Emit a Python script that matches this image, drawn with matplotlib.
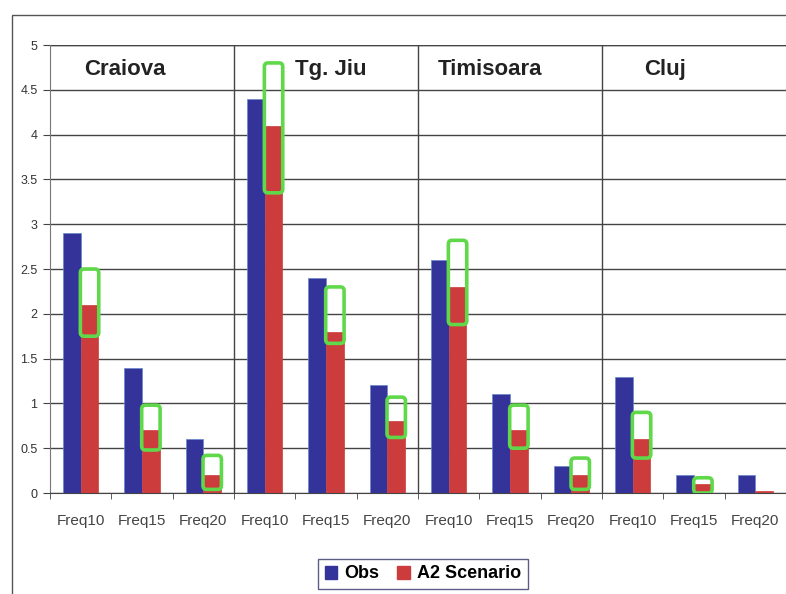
import numpy as np
import matplotlib.pyplot as plt
from matplotlib.patches import FancyBboxPatch, Rectangle

plt.rcParams['font.family'] = ['Liberation Sans', 'DejaVu Sans']

stations = ['Craiova', 'Tg. Jiu', 'Timisoara', 'Cluj']
freqs = ['Freq10', 'Freq15', 'Freq20']
obs = [2.9, 1.4, 0.6, 4.4, 2.4, 1.2, 2.6, 1.1, 0.3, 1.3, 0.2, 0.2]
a2 = [2.1, 0.7, 0.2, 4.1, 1.8, 0.8, 2.3, 0.7, 0.2, 0.6, 0.1, 0.02]
# range boxes (green) around the scenario values
box_low = [1.75, 0.48, 0.04, 3.35, 1.67, 0.62, 1.88, 0.5, 0.04, 0.39, 0.0, None]
box_high = [2.5, 0.98, 0.42, 4.8, 2.3, 1.07, 2.82, 0.98, 0.39, 0.9, 0.17, None]

fig = plt.figure(figsize=(7.86, 5.94), dpi=100)
# outer chart frame
fig.add_artist(Rectangle((12 / 786, -0.05), 1.0, 1 - 15 / 594 + 0.05, transform=fig.transFigure,
                         fill=False, edgecolor='#555555', linewidth=1))

ax = fig.add_axes([50 / 786, 101 / 594, 736 / 786, 448 / 594])
x = np.arange(len(obs))
w = 0.29
ax.bar(x - w / 2, obs, w, color='#333399', edgecolor='#6688cc', linewidth=0.5, zorder=3)
ax.bar(x + w / 2, a2, w, color='#cc3c3c', edgecolor='#cc3c3c', linewidth=0.5, zorder=3)

for i in range(len(obs)):
    if box_low[i] is None:
        continue
    ax.add_patch(FancyBboxPatch((x[i] + w / 2 - 0.15, box_low[i]), 0.30, box_high[i] - box_low[i],
                                boxstyle='round,pad=0,rounding_size=0.06', fill=False,
                                edgecolor='#5fd94a', linewidth=2.6, zorder=4,
                                mutation_aspect=0.7))

ax.set_xlim(-0.5, len(obs) - 0.5)
ax.set_ylim(0, 5)
ax.set_yticks(np.arange(0, 5.01, 0.5))
ax.set_yticklabels(['0', '0.5', '1', '1.5', '2', '2.5', '3', '3.5', '4', '4.5', '5'],
                   fontsize=9, color='#333333')
ax.grid(axis='y', color='#444444', linewidth=1, zorder=1)
ax.axhline(5, color='#444444', linewidth=1, zorder=1)
for b in [2.5, 5.5, 8.5]:
    ax.axvline(b, color='#444444', linewidth=1, zorder=2)

ax.set_xticks(x)
ax.set_xticklabels(freqs * 4, fontsize=11, color='#444444')
ax.set_xticks(np.arange(-0.5, len(obs), 1), minor=True)
ax.tick_params(axis='x', which='major', length=0, pad=15)
ax.tick_params(axis='x', which='minor', length=4, color='#444444')
ax.tick_params(axis='y', length=5, color='#444444', pad=4)

for s in ['top', 'right']:
    ax.spines[s].set_visible(False)
ax.spines['left'].set_color('#777777')
ax.spines['bottom'].set_color('#444444')

title_x = [0.72, 4.08, 6.67, 9.53]
for name, tx in zip(stations, title_x):
    ax.text(tx, 4.73, name, fontsize=16, fontweight='bold', ha='center',
            va='center', color='#222222', zorder=5)

h1 = Rectangle((0, 0), 1, 1, color='#333399')
h2 = Rectangle((0, 0), 1, 1, color='#cc3c3c')
leg = fig.legend([h1, h2], ['Obs', 'A2 Scenario'], loc='center', bbox_to_anchor=(423 / 786, 1 - 574 / 594),
                 ncol=2, frameon=True, fancybox=False, edgecolor='#333366',
                 prop={'weight': 'bold', 'size': 13}, handlelength=0.7, handleheight=0.7,
                 columnspacing=1.0, handletextpad=0.4, borderpad=0.35)
leg.get_frame().set_linewidth(1)

plt.savefig('out.png', dpi=100)
